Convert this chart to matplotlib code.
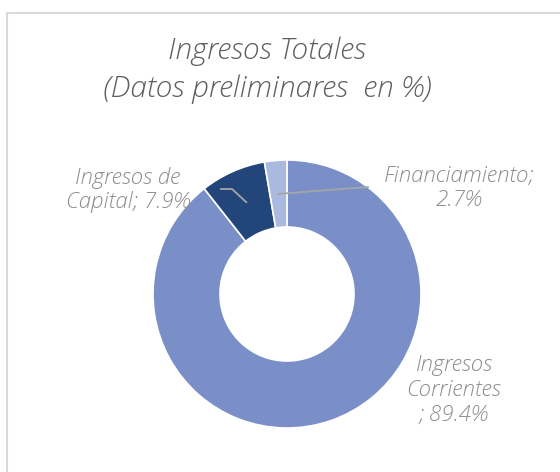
import numpy as np
import matplotlib
matplotlib.use("Agg")
import matplotlib.pyplot as plt
from matplotlib.patches import Rectangle

labels = ["Ingresos\nCorrientes\n; 89.4%", "Ingresos de\nCapital; 7.9%", "Financiamiento;\n2.7%"]
values = [89.4, 7.9, 2.7]
colors = ["#7A8FC7", "#22467A", "#AABADE"]

plt.rcParams['font.family'] = ['Open Sans', 'DejaVu Sans']

fig = plt.figure(figsize=(5.6, 4.72), dpi=100)
ax = fig.add_axes([0, 0, 1, 1])

# donut, center and radius in pixel units of the figure
cx, cy, R = 287, 178, 134
wedges, _ = ax.pie(values, colors=colors, startangle=90, counterclock=False,
                   radius=R, center=(cx, cy),
                   wedgeprops=dict(width=R * 0.5, edgecolor='white', linewidth=1.2))
ax.set_xlim(0, 560)
ax.set_ylim(0, 472)
ax.set_aspect('equal')
ax.axis('off')

# outer border of the chart area (clipped at the right/bottom)
fig.patches.append(Rectangle((7 / 560, -0.1), 1.2, 1 - 13 / 472 + 0.1,
                             transform=fig.transFigure, fill=False,
                             edgecolor='#d9d9d9', linewidth=1.5))

ax.text(267, 472 - 51, "Ingresos Totales", ha='center', va='center',
        fontsize=21.5, style='italic', fontweight='light', color='#5f5f5f')
ax.text(267, 472 - 89, "(Datos preliminares  en %)", ha='center', va='center',
        fontsize=21.5, style='italic', fontweight='light', color='#5f5f5f')

lab_pos = [(454, 472 - 390), (128, 472 - 190), (459, 472 - 188)]
lab_kw = dict(ha='center', va='center', fontsize=16, style='italic',
              fontweight='light', color='#8c8c8c', linespacing=1.15)
for w, lab, (tx, ty) in zip(wedges, labels, lab_pos):
    ax.text(tx, ty, lab, **lab_kw)

# leader lines from the middle of the small wedges
def mid_point(w):
    a = np.deg2rad((w.theta1 + w.theta2) / 2)
    return cx + 0.75 * R * np.cos(a), cy + 0.75 * R * np.sin(a)

x0, y0 = mid_point(wedges[1])
ax.plot([x0, 232, 221], [y0, 472 - 189, 472 - 189], color='#a6a6a6', lw=1.3)
x0, y0 = mid_point(wedges[2])
ax.plot([x0, 368], [y0, 472 - 187], color='#a6a6a6', lw=1.3)

fig.savefig("out.png", dpi=100)
